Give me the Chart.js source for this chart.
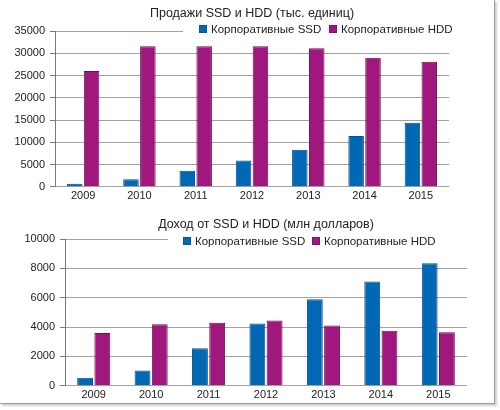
<!DOCTYPE html>
<html lang="ru">
<head>
<meta charset="utf-8">
<script src="https://cdn.jsdelivr.net/npm/chart.js@4"></script>
<style>
  body { margin: 0; background: #fff; }
  #quadro {
    position: absolute; left: 0; top: 0; width: 494px; height: 403px;
    border-right: 1px solid #9a9a9a; border-bottom: 1px solid #9a9a9a;
    box-shadow: 2px 2px 2px #cfcfcf;
  }
  .bloco { position: absolute; left: 0; width: 494px; }
  #b1 { top: 0; height: 207px; }
  #b2 { top: 205px; height: 201px; }
</style>
</head>
<body>
<div id="quadro"></div>
<div class="bloco" id="b1"><canvas id="graficoVendas"></canvas></div>
<div class="bloco" id="b2"><canvas id="graficoReceita"></canvas></div>
<script>
// Dados
const anos = ["2009", "2010", "2011", "2012", "2013", "2014", "2015"];
const series = ["Корпоративные SSD", "Корпоративные HDD"];

const vendasSSD = [700, 1700, 3600, 5900, 8300, 11400, 14400];
const vendasHDD = [26000, 31600, 31600, 31600, 31100, 29000, 28100];

const receitaSSD = [550, 1050, 2550, 4250, 5900, 7100, 8350];
const receitaHDD = [3600, 4200, 4300, 4450, 4100, 3750, 3650];

const ticksVendas = [0, 5000, 10000, 15000, 20000, 25000, 30000, 35000];
const ticksReceita = [0, 2000, 4000, 6000, 8000, 10000];

const tituloVendas = "Продажи SSD и HDD (тыс. единиц)";
const tituloReceita = "Доход от SSD и HDD (млн долларов)";

const FONTE = "'Liberation Sans', Arial, sans-serif";
const AZUL = "#0068b4", AZUL_BORDA = "#0a4f86";
const ROXO = "#a0187e", ROXO_BORDA = "#6e1058";

Chart.defaults.font.family = FONTE;
Chart.defaults.color = "#222";
Chart.defaults.animation = false;

// Legenda desenhada por cima da área do gráfico (como no original)
const legendaSobreposta = {
  id: "legendaSobreposta",
  afterDraw(chart, args, opts) {
    const ctx = chart.ctx;
    ctx.save();
    ctx.fillStyle = "#fff";
    ctx.fillRect(opts.fundo[0], opts.fundo[1], opts.fundo[2], opts.fundo[3]);
    ctx.font = "11.5px " + FONTE;
    ctx.textBaseline = "middle";
    chart.data.datasets.forEach((ds, i) => {
      const x = opts.xs[i];
      ctx.fillStyle = ds.backgroundColor;
      ctx.fillRect(x, opts.y - 4, 8, 8);
      ctx.strokeStyle = ds.borderColor;
      ctx.lineWidth = 0.6;
      ctx.strokeRect(x + 0.3, opts.y - 3.7, 7.4, 7.4);
      ctx.fillStyle = "#222";
      ctx.fillText(ds.label, x + 12, opts.y + 0.5);
    });
    ctx.restore();
  }
};

const criaGrafico = (id, ssd, hdd, ticks, titulo, cfg) => {
  new Chart(document.getElementById(id).getContext("2d"), {
    type: "bar",
    data: {
      labels: anos,
      datasets: [
        { label: series[0], data: ssd, backgroundColor: AZUL, borderColor: AZUL_BORDA,
          borderWidth: 1, categoryPercentage: 0.6, barPercentage: 0.92 },
        { label: series[1], data: hdd, backgroundColor: ROXO, borderColor: ROXO_BORDA,
          borderWidth: 1, categoryPercentage: 0.6, barPercentage: 0.92 }
      ]
    },
    options: {
      responsive: true,
      maintainAspectRatio: false,
      layout: { padding: { left: 0, right: cfg.direita, top: 0, bottom: cfg.baixo } },
      plugins: {
        legend: { display: false },
        tooltip: { enabled: false },
        title: {
          display: true,
          text: titulo,
          fullSize: false,
          color: "#222",
          font: { size: 12.5, weight: "normal" },
          padding: cfg.tituloPad
        },
        legendaSobreposta: cfg.legenda
      },
      scales: {
        x: {
          grid: { display: false, drawTicks: false },
          border: { display: false },
          ticks: { padding: 3, font: { size: 11 }, color: "#222" }
        },
        y: {
          min: ticks[0],
          max: ticks[ticks.length - 1],
          afterBuildTicks: s => { s.ticks = ticks.map(v => ({ value: v })); },
          afterFit: s => { s.width = cfg.eixo; },
          grid: { color: "#a3a3a3", lineWidth: 1, tickLength: 5, tickColor: "#777" },
          border: { display: true, color: "#777", width: 1 },
          ticks: { padding: 5, font: { size: 11 }, color: "#222", callback: v => String(v) }
        }
      }
    },
    plugins: [legendaSobreposta]
  });
};

criaGrafico("graficoVendas", vendasSSD, vendasHDD, ticksVendas, tituloVendas, {
  direita: 45, baixo: 1, eixo: 55,
  tituloPad: { top: 6, bottom: 10 },
  legenda: { fundo: [183, 20, 280, 17], xs: [199, 329], y: 29 }
});

criaGrafico("graficoReceita", receitaSSD, receitaHDD, ticksReceita, tituloReceita, {
  direita: 27, baixo: 1, eixo: 65,
  tituloPad: { top: 12, bottom: 7 },
  legenda: { fundo: [168, 29, 310, 16], xs: [183, 312], y: 36 }
});
</script>
</body>
</html>
